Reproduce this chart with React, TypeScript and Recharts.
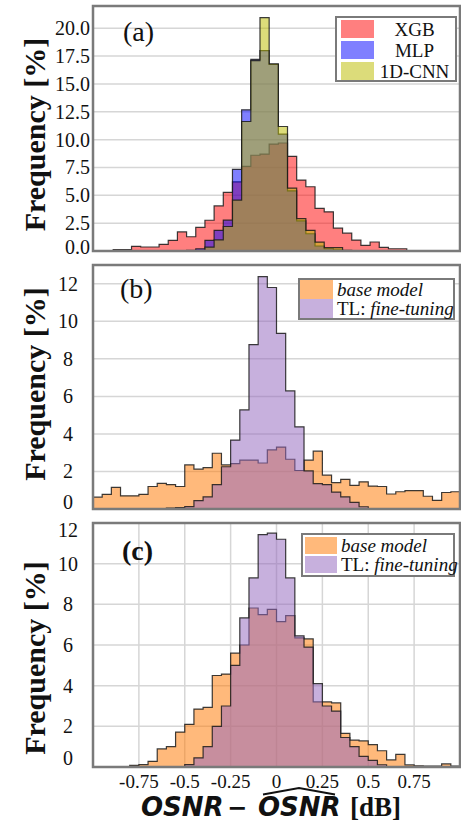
import React from 'react';
import { ComposedChart, Area, XAxis, YAxis, CartesianGrid, ReferenceArea, Legend, Label } from 'recharts';

const SERIF = '"Liberation Serif", "Times New Roman", serif';
const MATH = '"DejaVu Sans", sans-serif';

// ---- shared x axis ----
const X_DOMAIN = [-1, 1];
const X_TICKS = [-0.75, -0.5, -0.25, 0, 0.25, 0.5, 0.75];
const X_TICK_LABELS = ['-0.75', '-0.5', '-0.25', '0', '0.25', '0.5', '0.75'];
const BIN_WIDTH = 0.05;

// ---- panel (a) ----
const A_BIN_START = -0.99;
const A_Y_TICKS = [0, 2.5, 5, 7.5, 10, 12.5, 15, 17.5, 20];
const A_Y_MAX = 22;
const A_NAMES = ['XGB', 'MLP', '1D-CNN'];
const A_XGB = [0, 0, 0.12, 0.12, 0.42, 0.36, 0.36, 0.6, 0.96, 1.71, 1.28, 2.12, 2.76, 4.05, 5.26, 6.2, 7.6, 8.6, 8.7, 9.6, 9.7, 8.5, 6.37, 5.77, 3.82, 3.52, 2.05, 1.6, 0.98, 0.51, 0.81, 0.32, 0.2, 0.2, 0, 0, 0, 0, 0, 0];
const A_MLP = [0, 0, 0, 0, 0, 0, 0, 0, 0, 0, 0.05, 0.2, 0.96, 1.86, 2.77, 7.33, 12.68, 17.2, 18.0, 16.75, 10.5, 5.4, 2.7, 1.55, 0.45, 0.2, 0.1, 0.03, 0, 0, 0, 0, 0, 0, 0, 0, 0, 0, 0, 0];
const A_CNN = [0, 0, 0, 0, 0, 0, 0, 0, 0, 0, 0, 0.05, 0.35, 1.0, 2.2, 4.57, 11.63, 17.1, 20.95, 16.8, 11.18, 5.65, 2.9, 1.86, 0.8, 0.3, 0.3, 0.05, 0, 0, 0, 0, 0, 0, 0, 0, 0, 0, 0, 0];

// ---- panel (b) ----
const B_BIN_START = -1;
const B_Y_TICKS = [0, 2, 4, 6, 8, 10, 12];
const B_Y_MAX = 13;
const BC_NAMES = ['base model', 'fine-tuning'];
const B_BASE = [0.63, 0.78, 1.15, 0.7, 0.7, 0.78, 1.2, 1.36, 1.3, 1.2, 2.35, 2.12, 2.2, 2.97, 2.35, 2.42, 2.6, 2.6, 2.45, 3.15, 3.3, 2.65, 2.05, 2.6, 3.08, 1.8, 1.4, 1.58, 1.26, 1.45, 1.22, 1.2, 0.8, 0.92, 0.98, 0.98, 0.68, 0.46, 0.88, 0.92];
const B_TL = [0, 0, 0, 0, 0, 0, 0, 0, 0.05, 0.07, 0.13, 0.45, 0.65, 1.3, 2.25, 3.67, 5.28, 8.76, 12.38, 11.8, 9.36, 6.29, 4.38, 2.03, 1.35, 1.3, 0.9, 0.65, 0.35, 0.12, 0, 0, 0, 0, 0, 0, 0, 0, 0, 0];

// ---- panel (c) ----
const C_BIN_START = -1;
const C_Y_TICKS = [0, 2, 4, 6, 8, 10, 12];
const C_Y_MAX = 12;
const C_BASE = [0, 0, 0, 0, 0.08, 0.12, 0.28, 0.89, 1.0, 1.72, 2.1, 2.85, 2.93, 4.5, 4.57, 5.6, 6.0, 7.82, 7.49, 7.75, 7.15, 7.44, 6.35, 6.3, 3.2, 3.2, 3.15, 1.65, 1.32, 1.28, 1.1, 0.8, 0.35, 0.62, 0.1, 0.06, 0.04, 0.04, 0.15, 0.04];
const C_TL = [0, 0, 0, 0, 0, 0, 0, 0, 0, 0.02, 0.12, 0.45, 1.0, 2.0, 3.0, 5.0, 7.33, 9.3, 11.43, 11.5, 11.2, 9.3, 6.45, 5.9, 4.1, 3.0, 2.75, 1.45, 1.0, 0.52, 0.33, 0.11, 0, 0, 0, 0, 0, 0, 0, 0];

type Row = { [k: string]: number };

function buildRows(start: number, cols: { [k: string]: number[] }): Row[] {
  const keys = Object.keys(cols);
  const n = cols[keys[0]].length;
  const rows: Row[] = [];
  for (let i = 0; i <= n; i++) {
    const row: Row = { x: +(start + i * BIN_WIDTH).toFixed(4) };
    keys.forEach((k) => {
      row[k] = cols[k][Math.min(i, n - 1)];
    });
    rows.push(row);
  }
  return rows;
}

const A_ROWS = buildRows(A_BIN_START, { xgb: A_XGB, mlp: A_MLP, cnn: A_CNN });
const B_ROWS = buildRows(B_BIN_START, { base: B_BASE, tl: B_TL });
const C_ROWS = buildRows(C_BIN_START, { base: C_BASE, tl: C_TL });

type Series = { key: string; color: string; opacity: number; label: React.ReactNode };

const A_SERIES: Series[] = [
  { key: 'xgb', color: '#ff0000', opacity: 0.5, label: A_NAMES[0] },
  { key: 'mlp', color: '#0000ff', opacity: 0.5, label: A_NAMES[1] },
  { key: 'cnn', color: '#bbbb00', opacity: 0.52, label: A_NAMES[2] },
];

const BC_SERIES: Series[] = [
  { key: 'base', color: '#ff7f0e', opacity: 0.55, label: <i>{BC_NAMES[0]}</i> },
  { key: 'tl', color: '#9467bd', opacity: 0.52, label: <span>TL: <i>{BC_NAMES[1]}</i></span> },
];

type LegendLayout = {
  left: number; top: number; width: number; height: number;
  padTop: number; padLeft: number; rowH: number; gap: number; patchW: number;
  centerText: boolean; textGap: number;
};

function LegendBox({ series, lay }: { series: Series[]; lay: LegendLayout }) {
  return (
    <div
      style={{
        boxSizing: 'border-box', width: lay.width, height: lay.height,
        border: '2px solid #7a7a7a', background: '#fff',
        paddingTop: lay.padTop, paddingLeft: lay.padLeft,
        fontFamily: SERIF, fontSize: 19, color: '#111', lineHeight: 1,
      }}
    >
      {series.map((s, i) => (
        <div key={s.key} style={{ display: 'flex', alignItems: 'center', height: lay.rowH, marginTop: i === 0 ? 0 : lay.gap }}>
          <div style={{ width: lay.patchW, height: lay.rowH, background: s.color, opacity: s.opacity, flex: 'none' }} />
          <div style={{ flex: 1, textAlign: lay.centerText ? 'center' : 'left', paddingLeft: lay.textGap, whiteSpace: 'nowrap' }}>
            {s.label}
          </div>
        </div>
      ))}
    </div>
  );
}

function makeYTick(fmt: (v: number) => string, anchor: 'end' | 'middle', shifts: { [k: string]: number }) {
  return (props: any) => {
    const { x, y, payload } = props;
    const dy = shifts[String(payload.value)] ?? 0;
    return (
      <text x={x} y={y + dy} textAnchor={anchor} dominantBaseline="central" fontFamily={SERIF} fontSize={20} fill="#111">
        {fmt(payload.value)}
      </text>
    );
  };
}

const XTick = (props: any) => {
  const { x, y, payload } = props;
  const idx = X_TICKS.indexOf(payload.value);
  return (
    <text x={x} y={y + 14} textAnchor="middle" dominantBaseline="central" fontFamily={SERIF} fontSize={19} fill="#111">
      {idx >= 0 ? X_TICK_LABELS[idx] : String(payload.value)}
    </text>
  );
};

const XTitle = (props: any) => {
  const vb = props.viewBox || { x: 93, y: 767 };
  const x0 = vb.x;
  const base = vb.y + 49;
  return (
    <g>
      <text x={x0 + 48} y={base} fontFamily={MATH} fontWeight="bold" fontStyle="italic" fontSize={26} fill="#111">OSNR</text>
      <text x={x0 + 144} y={base} textAnchor="middle" fontFamily={MATH} fontWeight="bold" fontSize={24} fill="#111">−</text>
      <text x={x0 + 165} y={base} fontFamily={MATH} fontWeight="bold" fontStyle="italic" fontSize={26} fill="#111">OSNR</text>
      <polyline points={`${x0 + 170},${vb.y + 27.5} ${x0 + 206},${vb.y + 21} ${x0 + 242},${vb.y + 27.5}`} fill="none" stroke="#111" strokeWidth={1.8} />
      <text x={x0 + 257} y={base} fontFamily={SERIF} fontWeight="bold" fontSize={27} fill="#111">[dB]</text>
    </g>
  );
};

function makeYTitle(shift: number) {
  return (props: any) => {
    const vb = props.viewBox;
    const cx = vb.x + 34;
    const cy = vb.y + vb.height / 2 + shift;
    return (
      <text x={cx} y={cy} transform={`rotate(-90, ${cx}, ${cy})`} textAnchor="middle" dominantBaseline="central"
        fontFamily={SERIF} fontWeight="bold" fontSize={30} fill="#111">
        Frequency [%]
      </text>
    );
  };
}

function makePanelLabel(text: string, bold: boolean, dx: number, dy: number) {
  return (props: any) => {
    const vb = props.viewBox;
    return (
      <text x={vb.x + dx} y={vb.y + dy} dominantBaseline="central" fontFamily={SERIF} fontSize={28}
        fontWeight={bold ? 'bold' : 'normal'} fill="#111">
        {text}
      </text>
    );
  };
}

type PanelProps = {
  top: number; height: number; mTop: number; mBottom: number; xAxisH: number; showX: boolean;
  rows: Row[]; series: Series[]; yMax: number; yTicks: number[];
  yFmt: (v: number) => string; yAnchor: 'end' | 'middle'; yTickMargin: number; yShifts: { [k: string]: number };
  yTitleShift: number; label: string; labelBold: boolean; labelDx: number; labelDy: number;
  legend: LegendLayout;
};

function Panel(p: PanelProps) {
  return (
    <div style={{ position: 'absolute', left: 0, top: p.top, width: 461, height: p.height }}>
      <ComposedChart width={461} height={p.height} data={p.rows} margin={{ top: p.mTop, right: 1, bottom: p.mBottom, left: 0 }}>
        <CartesianGrid stroke="#d6d6d6" strokeWidth={1.5} />
        <XAxis
          type="number" dataKey="x" domain={X_DOMAIN} ticks={X_TICKS} interval={0} allowDataOverflow
          height={p.xAxisH} axisLine={false} tickLine={false} tickSize={0} tickMargin={0}
          tick={p.showX ? XTick : false}
          label={p.showX ? <XTitle /> : undefined}
        />
        <YAxis
          type="number" domain={[0, p.yMax]} ticks={p.yTicks} interval={0} allowDataOverflow width={93}
          axisLine={false} tickLine={false} tickSize={0} tickMargin={p.yTickMargin}
          tick={makeYTick(p.yFmt, p.yAnchor, p.yShifts)}
          label={makeYTitle(p.yTitleShift)}
        />
        {p.series.map((s) => (
          <Area
            key={s.key} type="stepAfter" dataKey={s.key} fill={s.color} fillOpacity={s.opacity}
            stroke="#1a1a1a" strokeOpacity={0.85} strokeWidth={1.2}
            dot={false} activeDot={false} isAnimationActive={false}
          />
        ))}
        <ReferenceArea x1={X_DOMAIN[0]} x2={X_DOMAIN[1]} y1={0} y2={p.yMax} fill="none" fillOpacity={0}
          stroke="#7a7a7a" strokeWidth={2.5} ifOverflow="visible">
          <Label content={makePanelLabel(p.label, p.labelBold, p.labelDx, p.labelDy)} />
        </ReferenceArea>
        <Legend
          layout="vertical" align="center" verticalAlign="middle"
          wrapperStyle={{ position: 'absolute', left: p.legend.left, top: p.legend.top, width: 'auto', height: 'auto', margin: 0 }}
          content={() => <LegendBox series={p.series} lay={p.legend} />}
        />
      </ComposedChart>
    </div>
  );
}

export default function App() {
  return (
    <div style={{ position: 'relative', width: 461, height: 824, overflow: 'hidden', background: '#fff' }}>
      <style>{'body{margin:0;overflow:hidden;background:#fff}'}</style>
      <Panel
        top={0} height={258} mTop={6} mBottom={7} xAxisH={0} showX={false}
        rows={A_ROWS} series={A_SERIES} yMax={A_Y_MAX} yTicks={A_Y_TICKS}
        yFmt={(v) => v.toFixed(1)} yAnchor="end" yTickMargin={3} yShifts={{ '0': -4 }}
        yTitleShift={6} label="(a)" labelBold={false} labelDx={30} labelDy={25}
        legend={{ left: 335, top: 16, width: 122, height: 66, padTop: 2, padLeft: 4, rowH: 18, gap: 3, patchW: 33, centerText: true, textGap: 0 }}
      />
      <Panel
        top={258} height={258} mTop={7} mBottom={7} xAxisH={0} showX={false}
        rows={B_ROWS} series={BC_SERIES} yMax={B_Y_MAX} yTicks={B_Y_TICKS}
        yFmt={(v) => String(v)} yAnchor="middle" yTickMargin={25} yShifts={{ '0': -7 }}
        yTitleShift={-3} label="(b)" labelBold={false} labelDx={27} labelDy={23}
        legend={{ left: 298, top: 20, width: 157, height: 42, padTop: 0, padLeft: 0, rowH: 19, gap: 0, patchW: 33, centerText: false, textGap: 4 }}
      />
      <Panel
        top={516} height={308} mTop={7} mBottom={0} xAxisH={57} showX={true}
        rows={C_ROWS} series={BC_SERIES} yMax={C_Y_MAX} yTicks={C_Y_TICKS}
        yFmt={(v) => String(v)} yAnchor="middle" yTickMargin={25} yShifts={{ '0': -9, '12': 7 }}
        yTitleShift={13} label="(c)" labelBold={true} labelDx={29} labelDy={27}
        legend={{ left: 301, top: 17, width: 154, height: 44, padTop: 2, padLeft: 2, rowH: 17, gap: 2, patchW: 32, centerText: false, textGap: 4 }}
      />
    </div>
  );
}
